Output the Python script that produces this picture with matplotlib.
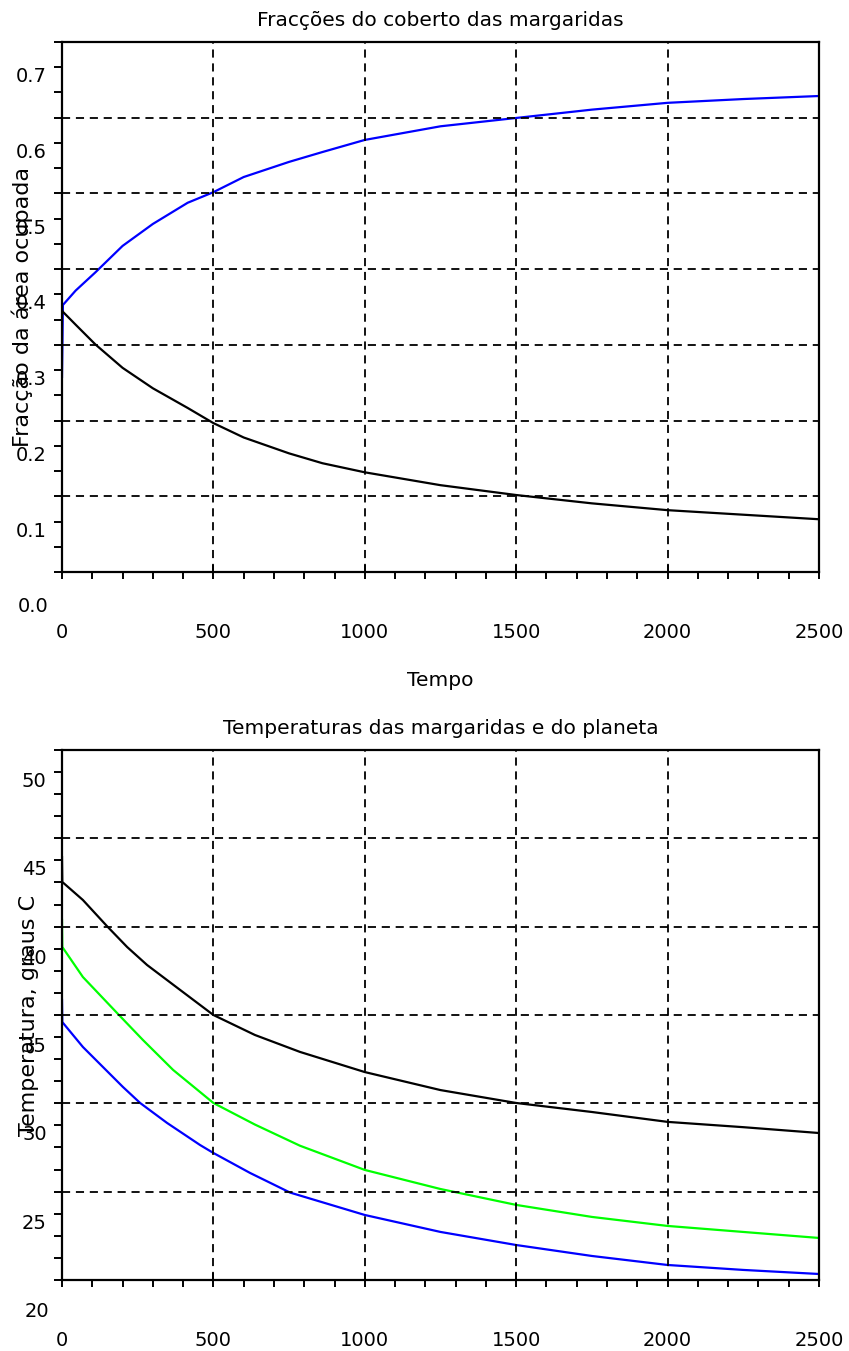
import numpy as np
import matplotlib
matplotlib.use("Agg")
import matplotlib.pyplot as plt
from matplotlib.ticker import FixedLocator

# ---- data ----
t_frac = [0, 3, 45, 110, 200, 300, 415, 500, 600, 750, 860, 1000, 1250, 1500, 1750, 2000, 2250, 2500]
frac_blue = [0.291, 0.386, 0.405, 0.429, 0.464, 0.493, 0.521, 0.535, 0.555, 0.575, 0.588,
             0.604, 0.622, 0.633, 0.644, 0.653, 0.658, 0.662]
frac_black = [0.379, 0.377, 0.360, 0.334, 0.303, 0.276, 0.250, 0.230, 0.211, 0.190, 0.177,
              0.165, 0.148, 0.135, 0.124, 0.115, 0.109, 0.103]

t_black = [0, 1, 69, 148, 215, 281, 390, 500, 637, 786, 1000, 1250, 1500, 1750, 2000, 2250, 2500]
temp_black = [45.19, 43.78, 42.76, 41.29, 40.1, 39.08, 37.67, 36.25, 35.12, 34.16, 33.02,
              32.0, 31.27, 30.76, 30.2, 29.9, 29.57]
t_green = [0, 1, 69, 182, 267, 367, 456, 500, 637, 786, 1000, 1250, 1500, 1750, 2000, 2250, 2500]
temp_green = [41.63, 40.10, 38.4, 36.36, 34.84, 33.14, 31.89, 31.27, 30.05, 28.85, 27.48,
              26.4, 25.5, 24.82, 24.31, 23.97, 23.63]
t_blue = [0, 1, 69, 201, 258, 347, 456, 500, 621, 753, 1000, 1250, 1500, 1750, 2000, 2250, 2500]
temp_blue = [37.1, 35.85, 34.44, 32.18, 31.27, 30.14, 28.89, 28.44, 27.31, 26.2, 24.93,
             23.97, 23.23, 22.61, 22.10, 21.82, 21.59]

frac_ticks = [0.1, 0.2, 0.3, 0.4, 0.5, 0.6, 0.7]
frac_tick_labels = ["0.1", "0.2", "0.3", "0.4", "0.5", "0.6", "0.7"]
temp_ticks = [25, 30, 35, 40, 45, 50]
temp_tick_labels = ["25", "30", "35", "40", "45", "50"]
x_ticks = [0, 500, 1000, 1500, 2000, 2500]

FONT = "DejaVu Sans"
TICK_FS = 14
W, H = 849, 1351


def style_axes(ax, ylo, yhi, ystep, ygrid, yticks, ylabels, extra_label, extra_val):
    ax.set_xlim(0, 2500)
    ax.set_ylim(ylo, yhi)
    for s in ax.spines.values():
        s.set_linewidth(1.6)
        s.set_color("black")

    # x ticks
    ax.xaxis.set_major_locator(FixedLocator(x_ticks))
    ax.xaxis.set_minor_locator(FixedLocator(np.arange(0, 2501, 100)))
    ax.set_xticklabels([str(v) for v in x_ticks], fontsize=TICK_FS, family=FONT)
    ax.tick_params(axis="x", which="major", direction="inout", length=10, width=1.4, pad=32)
    ax.tick_params(axis="x", which="minor", direction="out", length=5, width=1.4)

    # y ticks (labels hang below their tick, as in the original)
    ax.yaxis.set_major_locator(FixedLocator(yticks))
    ax.yaxis.set_minor_locator(FixedLocator(np.arange(ylo, yhi + ystep / 2, ystep)))
    ax.set_yticklabels(ylabels, fontsize=TICK_FS, family=FONT)
    ax.tick_params(axis="y", which="both", direction="out", length=6, width=1.4, pad=5)
    for lbl in ax.get_yticklabels():
        lbl.set_va("top")
    ax.text(-0.0175, extra_val, extra_label, transform=ax.get_yaxis_transform(),
            ha="right", va="top", fontsize=TICK_FS, family=FONT, clip_on=False)

    # dashed grid
    for xv in x_ticks[1:-1]:
        ax.axvline(xv, color="black", lw=1.3, ls=(0, (4.5, 3.2)), zorder=3)
    for yv in ygrid:
        ax.axhline(yv, color="black", lw=1.3, ls=(0, (4.5, 3.2)), zorder=3)


fig = plt.figure(figsize=(W / 100, H / 100), dpi=100)

# ---- top: daisy fractions ----
ax1 = fig.add_axes([62 / W, 1 - 572 / H, (819 - 62) / W, 530 / H])
ax1.plot(t_frac, frac_blue, color="#0000ff", lw=1.6, zorder=2)
ax1.plot(t_frac, frac_black, color="black", lw=1.6, zorder=2)
lo1, hi1 = 1 / 30, 22 / 30
style_axes(ax1, lo1, hi1, 1 / 30, np.arange(lo1 + 0.1, hi1 - 0.01, 0.1),
           frac_ticks, frac_tick_labels, "0.0", 0.0)
ax1.set_title("Fracções do coberto das margaridas", fontsize=14.5, family=FONT,
              y=1 + 22 / 530, va="center", pad=0)
ax1.set_xlabel("Tempo", fontsize=14.5, family=FONT, va="center")
ax1.xaxis.set_label_coords(0.5, -(681 - 572) / 530)
ax1.set_ylabel("Fracção da área ocupada", fontsize=16, family=FONT, va="center")
ax1.yaxis.set_label_coords((22 - 62) / 757, 0.5)

# ---- bottom: temperatures ----
ax2 = fig.add_axes([62 / W, 1 - 1280 / H, (819 - 62) / W, 530 / H])
ax2.plot(t_black, temp_black, color="black", lw=1.6, zorder=2)
ax2.plot(t_green, temp_green, color="#00ff00", lw=1.6, zorder=2)
ax2.plot(t_blue, temp_blue, color="#0000ff", lw=1.6, zorder=2)
lo2, hi2 = 21.25, 51.25
style_axes(ax2, lo2, hi2, 1.25, np.arange(lo2 + 5, hi2 - 0.1, 5),
           temp_ticks, temp_tick_labels, "20", 20)
ax2.set_title("Temperaturas das margaridas e do planeta", fontsize=14.5, family=FONT,
              y=1 + 22 / 530, va="center", pad=0)
ax2.set_ylabel("Temperatura, graus C", fontsize=16, family=FONT, va="center")
ax2.yaxis.set_label_coords((29 - 62) / 757, 0.5)

fig.savefig("out.png", dpi=100)
